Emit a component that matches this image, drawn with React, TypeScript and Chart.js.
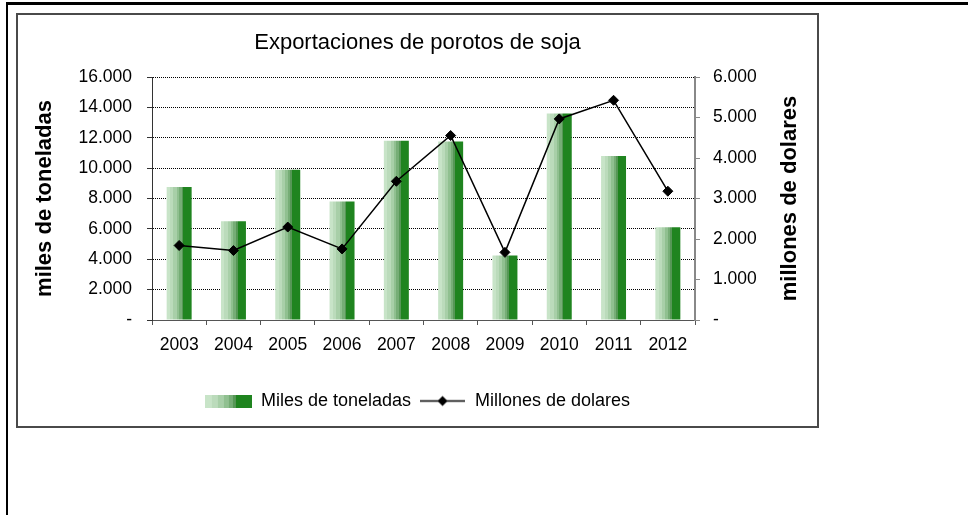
import React, { useEffect, useRef } from 'react';
import { Chart, registerables } from 'chart.js';

Chart.register(...registerables);

const years = ['2003', '2004', '2005', '2006', '2007', '2008', '2009', '2010', '2011', '2012'];
const milesDeToneladas = [8750, 6500, 9900, 7800, 11800, 11750, 4250, 13600, 10800, 6100];
const millonesDeDolares = [1840, 1715, 2295, 1755, 3425, 4555, 1670, 4965, 5425, 3180];
const leftTickLabels = ['-', '2.000', '4.000', '6.000', '8.000', '10.000', '12.000', '14.000', '16.000'];
const rightTickLabels = ['-', '1.000', '2.000', '3.000', '4.000', '5.000', '6.000'];

const FONT = '"Liberation Sans", Arial, sans-serif';
const BAR_PCT = 0.46;

const BANDS: [number, string][] = [
  [0, '#c8e4c8'],
  [0.14, '#bbdbbb'],
  [0.27, '#a8cfa8'],
  [0.4, '#90c090'],
  [0.5, '#76ad76'],
  [0.6, '#569756'],
  [0.67, '#1f841f'],
];

function bandGradient(ctx: CanvasRenderingContext2D, x0: number, x1: number) {
  const g = ctx.createLinearGradient(x0, 0, x1, 0);
  for (let i = 0; i < BANDS.length; i++) {
    const [s, c] = BANDS[i];
    const e = i + 1 < BANDS.length ? BANDS[i + 1][0] : 1;
    g.addColorStop(s, c);
    g.addColorStop(e, c);
  }
  return g;
}

export default function App() {
  const ref = useRef<HTMLCanvasElement>(null);

  useEffect(() => {
    const canvas = ref.current!;

    const barSwatch = document.createElement('canvas');
    barSwatch.width = 47;
    barSwatch.height = 13;
    const bctx = barSwatch.getContext('2d')!;
    bctx.fillStyle = bandGradient(bctx, 0, 47);
    bctx.fillRect(0, 0, 47, 13);

    const lineSwatch = document.createElement('canvas');
    lineSwatch.width = 45;
    lineSwatch.height = 13;
    const lctx = lineSwatch.getContext('2d')!;
    lctx.strokeStyle = '#000';
    lctx.lineWidth = 1.5;
    lctx.beginPath();
    lctx.moveTo(0, 6.5);
    lctx.lineTo(45, 6.5);
    lctx.stroke();
    lctx.fillStyle = '#000';
    lctx.beginPath();
    lctx.moveTo(22.5, 1.5);
    lctx.lineTo(27.5, 6.5);
    lctx.lineTo(22.5, 11.5);
    lctx.lineTo(17.5, 6.5);
    lctx.closePath();
    lctx.fill();

    const rightTitle = {
      id: 'rightTitle',
      afterDraw(chart: any) {
        const ctx = chart.ctx;
        const s = chart.scales.y1;
        const ca = chart.chartArea;
        ctx.save();
        ctx.translate(s.right - 27, (ca.top + ca.bottom) / 2);
        ctx.rotate(-Math.PI / 2);
        ctx.font = 'bold 22px ' + FONT;
        ctx.fillStyle = '#000';
        ctx.textAlign = 'center';
        ctx.textBaseline = 'middle';
        ctx.fillText('millones de dolares', 0, 0);
        ctx.restore();
      },
    };

    const chart = new Chart(canvas, {
      type: 'bar',
      data: {
        labels: years,
        datasets: [
          {
            type: 'bar',
            label: 'Miles de toneladas',
            data: milesDeToneladas,
            yAxisID: 'y',
            order: 1,
            barPercentage: BAR_PCT,
            categoryPercentage: 1,
            borderWidth: 0,
            backgroundColor: (c: any) => {
              const chart = c.chart;
              const xs = chart.scales && chart.scales.x;
              if (!xs || c.dataIndex === undefined || !xs.width) return '#569756';
              const cx = xs.getPixelForValue(c.dataIndex);
              const w = (xs.width / years.length) * BAR_PCT;
              return bandGradient(chart.ctx, cx - w / 2, cx + w / 2);
            },
          } as any,
          {
            type: 'line',
            label: 'Millones de dolares',
            data: millonesDeDolares,
            yAxisID: 'y1',
            order: 0,
            borderColor: '#000',
            borderWidth: 1.5,
            tension: 0,
            pointStyle: 'rectRot',
            pointRadius: 5,
            pointBackgroundColor: '#000',
            pointBorderColor: '#000',
            pointBorderWidth: 1,
          } as any,
        ],
      },
      options: {
        responsive: false,
        animation: false,
        devicePixelRatio: 1,
        layout: { padding: { left: 0, right: 0, top: 0, bottom: 6 } },
        plugins: {
          title: {
            display: true,
            text: 'Exportaciones de porotos de soja',
            font: { family: FONT, size: 22, weight: 'normal' },
            color: '#000',
            padding: { top: 15, bottom: 20.6 },
          },
          legend: {
            position: 'bottom',
            labels: {
              usePointStyle: true,
              pointStyleWidth: 47,
              padding: 8,
              font: { family: FONT, size: 18 },
              color: '#000',
              generateLabels: () => [
                {
                  text: 'Miles de toneladas',
                  pointStyle: barSwatch,
                  fillStyle: 'transparent',
                  strokeStyle: 'transparent',
                  lineWidth: 0,
                  hidden: false,
                  datasetIndex: 0,
                },
                {
                  text: 'Millones de dolares',
                  pointStyle: lineSwatch,
                  fillStyle: 'transparent',
                  strokeStyle: 'transparent',
                  lineWidth: 0,
                  hidden: false,
                  datasetIndex: 1,
                },
              ] as any,
            },
          },
          tooltip: { enabled: false },
        },
        scales: {
          x: {
            type: 'category',
            offset: true,
            grid: {
              display: true,
              offset: true,
              drawOnChartArea: false,
              drawTicks: true,
              tickLength: 5,
              tickColor: '#555',
            },
            border: { display: true, color: '#555', width: 1 },
            ticks: { font: { family: FONT, size: 17.5 }, color: '#000', padding: 10, maxRotation: 0, autoSkip: false },
            afterFit: (s: any) => {
              s.height = 64;
            },
          },
          y: {
            position: 'left',
            min: 0,
            max: 16000,
            ticks: {
              stepSize: 2000,
              padding: 15,
              font: { family: FONT, size: 17.5 },
              color: '#000',
              callback: (v: any) => leftTickLabels[Math.round(Number(v) / 2000)],
            },
            grid: { color: '#000', lineWidth: 1, tickColor: '#333', tickLength: 5, drawTicks: true },
            border: { display: true, color: '#333', width: 1, dash: [1, 1] },
            title: {
              display: true,
              text: 'miles de toneladas',
              font: { family: FONT, size: 22, weight: 'bold' },
              color: '#000',
              padding: { top: 14, bottom: 0 },
            },
            afterFit: (s: any) => {
              s.width = 134;
            },
          },
          y1: {
            position: 'right',
            min: 0,
            max: 6000,
            ticks: {
              stepSize: 1000,
              padding: 13,
              font: { family: FONT, size: 17.5 },
              color: '#000',
              callback: (v: any) => rightTickLabels[Math.round(Number(v) / 1000)],
            },
            grid: { drawOnChartArea: false, drawTicks: true, tickColor: '#888', tickLength: 5 },
            border: { display: true, color: '#888', width: 2 },
            afterFit: (s: any) => {
              s.width = 122;
            },
          },
        },
      } as any,
      plugins: [rightTitle],
    });

    return () => chart.destroy();
  }, []);

  return (
    <div
      style={{
        position: 'absolute',
        left: 0,
        top: 0,
        width: 968,
        height: 515,
        background: '#fff',
        overflow: 'hidden',
      }}
    >
      <div
        style={{
          position: 'absolute',
          left: 6,
          top: 2,
          right: 0,
          bottom: -10,
          borderTop: '3px solid #000',
          borderLeft: '2px solid #000',
        }}
      />
      <div
        style={{
          position: 'absolute',
          left: 16,
          top: 13,
          width: 799,
          height: 411,
          border: '2px solid #4a4a4a',
          background: '#fff',
        }}
      >
        <canvas ref={ref} width={799} height={411} style={{ display: 'block' }} />
      </div>
    </div>
  );
}
